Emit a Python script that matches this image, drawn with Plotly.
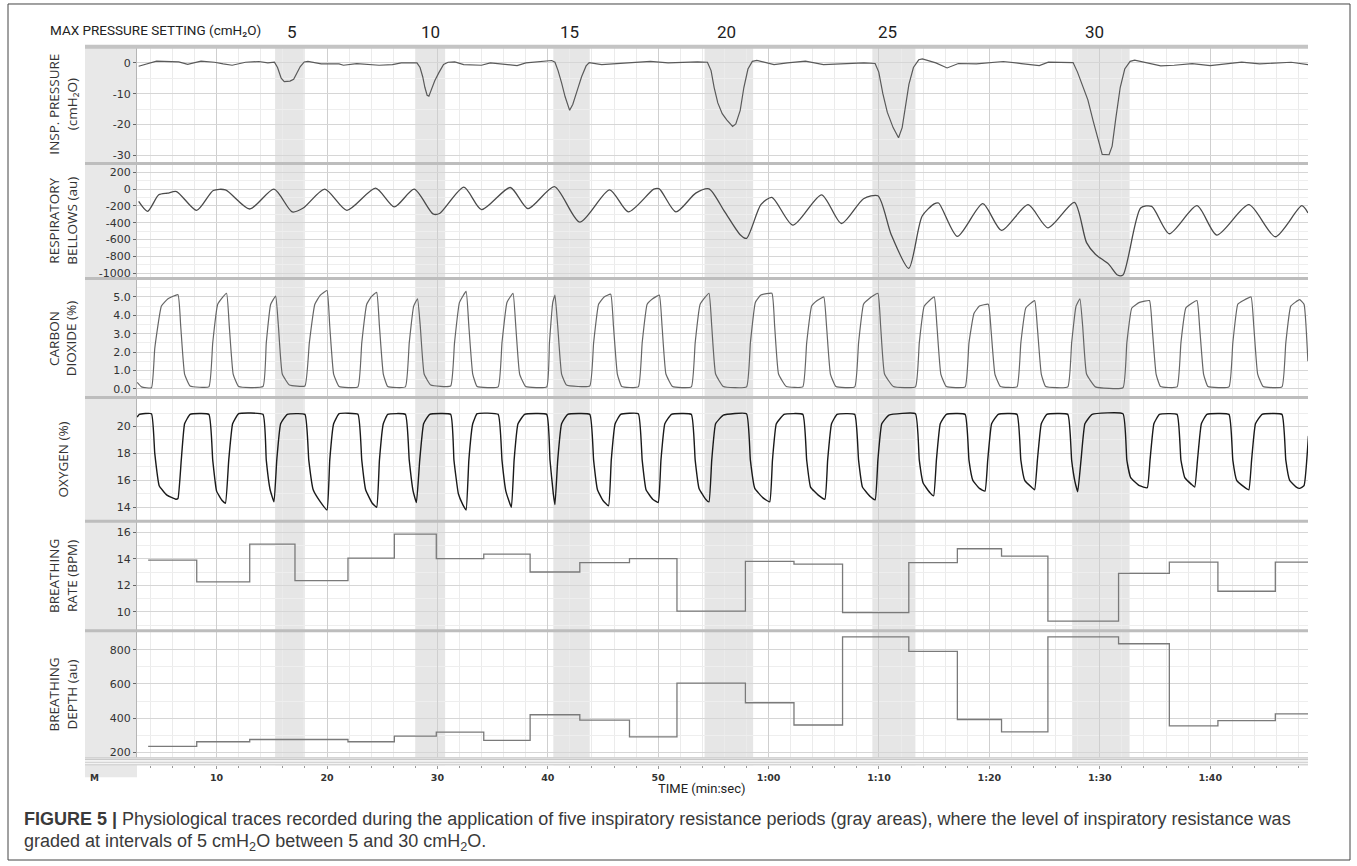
import plotly.graph_objects as go

W, H = 1357, 866
def fx(p): return p / W
def fy(p): return 1 - p / H

# ---------------- data ----------------
time_ticks = [10, 20, 30, 40, 50, 60, 70, 80, 90, 100]
time_labels = ["10", "20", "30", "40", "50", "1:00", "1:10", "1:20", "1:30", "1:40"]

pressure_settings = ["5", "10", "15", "20", "25", "30"]
setting_label_t = [16.8, 29.4, 42.0, 56.2, 70.8, 89.5]
resist_start = [15.3, 28.0, 40.5, 54.2, 69.4, 87.5]
resist_end = [17.9, 30.7, 43.8, 58.6, 73.3, 92.7]

insp_t = [2.94, 4.56, 6.57, 7.38, 8.59, 9.80, 10.6, 11.41, 12.62, 13.83, 14.64, 15.24, 15.52, 15.85,
          16.13, 16.65, 16.98, 17.26, 17.58, 17.94, 18.27, 19.48, 21.09, 21.49, 22.70, 24.72, 25.93,
          26.73, 28.15, 28.43, 28.67, 28.87, 29.07, 29.23, 29.48, 29.76, 30.16, 30.56, 30.97, 31.57,
          32.38, 33.99, 34.80, 36.41, 37.22, 38.02, 39.64, 40.36, 40.65, 40.93, 41.25, 41.57, 41.98,
          42.26, 42.66, 43.06, 43.47, 43.75, 44.88, 46.9, 49.3, 50.9, 52.5, 53.56, 54.46, 54.79, 55.07,
          55.40, 55.80, 56.21, 56.74, 57.03, 57.43, 57.76, 58.13, 58.53, 58.94, 60.49, 61.71, 63.34,
          64.97, 66.60, 68.64, 69.65, 69.98, 70.35, 70.75, 71.28, 71.77, 72.10, 72.38, 72.71, 73.12,
          73.60, 73.93, 75.15, 76.17, 77.19, 78.82, 81.26, 82.89, 84.52, 85.34, 87.58, 87.98, 88.39,
          88.92, 89.41, 89.90, 90.22, 90.84, 91.12, 91.45, 91.85, 92.26, 92.75, 93.16, 94.30, 95.52,
          96.74, 98.37, 100.0, 101.63, 102.85, 104.48, 106.52, 107.33, 108.86]
insp_v = [-1.1, 0.55, 0.3, -0.5, 0.55, 0.2, -0.33, -0.77, 0.2, 0.44, 0.0, 0.2, -1.5, -5.0,
          -6.1, -5.9, -5.3, -3.5, -1.2, 0.3, 0.5, -0.33, -0.33, -0.77, -0.22, -0.77, -0.55,
          0.0, 0.0, -1.5, -4.5, -8.0, -10.5, -10.8, -8.5, -5.8, -3.0, -0.5, 0.2, 0.33,
          -0.55, -0.77, 0.0, -0.55, -0.88, 0.0, 0.55, 0.77, 0.2, -2.5, -6.5, -11.0, -15.4,
          -13.5, -9.0, -4.5, -1.0, 0.1, -0.55, 0.0, 0.5, 0.0, 0.33, 0.33, 0.2, -2.5, -8.0,
          -13.0, -16.5, -18.5, -20.6, -19.8, -15.4, -8.0, -2.0, 0.5, 0.8, -0.55, 0.0, 0.55,
          -0.55, -0.33, 0.0, -0.2, -3.0, -10.0, -16.0, -21.0, -24.3, -21.0, -15.0, -7.0, -1.5,
          1.0, 1.3, 0.0, -1.65, -0.2, -0.33, 0.44, -0.22, -0.88, 0.22, 0.1, -3.0, -7.0,
          -12.0, -19.0, -26.0, -29.7, -29.8, -27.0, -18.0, -8.0, -2.0, 0.5, 0.9, 0.1, -1.0,
          -0.77, -0.22, -0.88, -0.22, 0.22, -0.33, 0.0, 0.2, -0.55]

bellows_t = [2.94, 3.75, 4.76, 5.56, 6.37, 8.19, 9.7, 10.8, 13.0, 15.2, 16.85, 17.85, 19.8, 21.8, 24.4,
             26.1, 27.9, 29.6, 30.2, 32.4, 34.0, 36.6, 38.2, 40.6, 42.9, 45.6, 47.3, 49.6, 50.1, 51.6,
             53.4, 54.6, 56.0, 57.4, 58.0, 59.3, 60.3, 62.2, 64.8, 66.6, 68.6, 69.9, 71.1, 72.7, 73.9,
             75.0, 75.4, 77.1, 79.4, 81.1, 83.5, 85.3, 87.7, 88.8, 89.6, 90.8, 91.6, 92.1, 93.7, 94.7,
             96.3, 98.8, 100.6, 103.5, 105.9, 108.3, 108.86]
bellows_v = [-146, -264, -67, -47, -28, -252, -16, -8, -236, 0, -271, -225, 0, -252, 12,
             -212, 0, -295, -290, 24, -244, 20, -232, 31, -393, -8, -271, 0, 4, -271,
             -47, 4, -264, -539, -586, -185, -98, -429, -67, -409, -114, -79, -539, -944, -323,
             -175, -165, -563, -173, -492, -185, -460, -157, -637, -775, -893, -1023, -1023, -224, -205,
             -531, -197, -547, -185, -567, -197, -283]

co2_pts = [(2.8, 0.35), (3.2, 0.1), (4.1, 0.05),
           (4.4, 2.2), (5.0, 4.5), (5.6, 4.9), (6.5, 5.12), (6.75, 3.4), (7.1, 0.8), (7.6, 0.15), (9.3, 0.1),
           (9.65, 2.5), (10.1, 4.6), (10.9, 5.2), (11.15, 3.4), (11.5, 0.8), (12.0, 0.12), (14.2, 0.12),
           (14.5, 2.5), (14.9, 4.6), (15.35, 5.05), (15.6, 3.4), (15.95, 0.8), (16.6, 0.2), (18.0, 0.15),
           (18.4, 2.5), (18.9, 4.6), (19.4, 5.1), (20.0, 5.35), (20.25, 3.4), (20.6, 0.8), (21.1, 0.12), (22.8, 0.1),
           (23.15, 2.5), (23.6, 4.6), (24.0, 5.0), (24.5, 5.25), (24.75, 3.4), (25.1, 0.8), (25.5, 0.12), (27.1, 0.1),
           (27.45, 2.5), (27.85, 4.5), (28.2, 4.9), (28.45, 3.4), (28.8, 0.8), (29.4, 0.2), (31.2, 0.15),
           (31.55, 2.5), (32.0, 4.7), (32.6, 5.3), (32.85, 3.4), (33.2, 0.8), (33.6, 0.12), (35.5, 0.1),
           (35.85, 2.5), (36.3, 4.7), (36.85, 5.2), (37.1, 3.4), (37.45, 0.8), (38.0, 0.12), (39.9, 0.1),
           (40.15, 2.5), (40.45, 4.7), (40.65, 5.1), (40.9, 3.4), (41.25, 0.8), (41.7, 0.2), (43.8, 0.15),
           (44.15, 2.5), (44.6, 4.6), (45.1, 5.0), (45.7, 5.15), (45.95, 3.4), (46.3, 0.8), (46.7, 0.12), (48.2, 0.1),
           (48.55, 2.5), (49.0, 4.6), (49.5, 4.9), (50.1, 5.1), (50.35, 3.4), (50.7, 0.8), (51.3, 0.12), (53.0, 0.1),
           (53.35, 2.5), (53.8, 4.6), (54.6, 5.2), (54.85, 3.4), (55.2, 0.8), (55.9, 0.12), (58.0, 0.1),
           (58.35, 2.5), (58.8, 4.7), (59.3, 5.1), (60.3, 5.2), (60.55, 3.4), (60.9, 0.8), (61.6, 0.12), (63.1, 0.1),
           (63.45, 2.5), (63.9, 4.5), (64.4, 4.8), (65.0, 5.0), (65.25, 3.4), (65.6, 0.8), (66.1, 0.12), (67.8, 0.1),
           (68.15, 2.5), (68.6, 4.6), (69.1, 4.9), (69.9, 5.2), (70.15, 3.4), (70.5, 0.8), (71.3, 0.12), (73.3, 0.1),
           (73.65, 2.5), (74.1, 4.5), (75.0, 5.0), (75.25, 3.4), (75.6, 0.8), (76.1, 0.12), (77.8, 0.1),
           (78.15, 2.5), (78.6, 4.1), (79.1, 4.5), (79.9, 4.6), (80.15, 3.2), (80.5, 0.8), (81.0, 0.12), (82.5, 0.1),
           (82.85, 2.5), (83.3, 4.4), (84.1, 4.8), (84.35, 3.3), (84.7, 0.8), (85.1, 0.12), (87.1, 0.1),
           (87.45, 2.5), (87.85, 4.5), (88.2, 4.9), (88.45, 3.4), (88.8, 0.8), (89.6, 0.1), (92.1, 0.05),
           (92.45, 2.5), (92.9, 4.4), (93.6, 4.7), (94.5, 4.8), (94.75, 3.3), (95.1, 0.8), (95.5, 0.12), (97.0, 0.1),
           (97.35, 2.5), (97.8, 4.4), (98.8, 4.8), (99.05, 3.3), (99.4, 0.8), (99.8, 0.12), (101.7, 0.1),
           (102.05, 2.5), (102.5, 4.6), (103.0, 4.8), (103.7, 5.0), (103.95, 3.4), (104.3, 0.8), (104.8, 0.12), (106.5, 0.1),
           (106.85, 2.5), (107.3, 4.5), (108.1, 4.85), (108.5, 4.6), (108.85, 1.5)]

o2_pts = [(2.8, 20.7), (3.0, 20.9), (4.1, 20.95),
          (4.4, 18.0), (4.8, 15.6), (5.5, 14.9), (6.3, 14.6), (6.5, 14.65), (6.8, 17.5), (7.1, 20.2), (7.6, 20.9), (9.3, 20.9),
          (9.65, 17.5), (10.0, 15.2), (10.5, 14.5), (10.8, 14.3), (11.1, 17.5), (11.45, 20.2), (12.0, 20.95), (14.2, 20.9),
          (14.5, 17.5), (14.85, 15.3), (15.2, 14.4), (15.45, 17.5), (15.8, 20.2), (16.4, 20.9), (18.0, 20.9),
          (18.35, 17.5), (18.75, 15.3), (19.4, 14.4), (20.0, 13.8), (20.25, 17.5), (20.6, 20.2), (21.1, 20.95), (22.8, 20.9),
          (23.15, 17.5), (23.5, 15.3), (24.1, 14.3), (24.5, 14.0), (24.75, 17.5), (25.1, 20.2), (25.5, 20.9), (27.1, 20.9),
          (27.45, 17.5), (27.8, 15.2), (28.1, 14.35), (28.4, 17.5), (28.75, 20.2), (29.3, 20.9), (31.2, 20.9),
          (31.5, 17.5), (31.9, 15.0), (32.3, 14.2), (32.6, 13.8), (32.85, 17.5), (33.2, 20.2), (33.6, 20.95), (35.5, 20.9),
          (35.85, 17.5), (36.2, 15.2), (36.7, 14.0), (36.95, 17.5), (37.3, 20.2), (37.9, 20.9), (39.9, 20.9),
          (40.2, 17.5), (40.5, 15.0), (40.65, 14.2), (40.9, 17.5), (41.25, 20.2), (41.8, 20.9), (43.8, 20.9),
          (44.15, 17.5), (44.5, 15.3), (45.0, 14.5), (45.5, 14.1), (45.75, 17.5), (46.1, 20.2), (46.6, 20.9), (48.2, 20.95),
          (48.55, 17.5), (48.9, 15.3), (49.5, 14.6), (50.0, 14.35), (50.25, 17.5), (50.6, 20.2), (51.2, 20.9), (53.0, 20.9),
          (53.35, 17.5), (53.7, 15.4), (54.3, 14.6), (54.6, 14.4), (54.85, 17.5), (55.2, 20.2), (55.9, 20.85), (58.0, 20.95),
          (58.35, 17.5), (58.75, 15.4), (59.5, 14.7), (60.1, 14.4), (60.35, 17.5), (60.7, 20.2), (61.4, 20.9), (63.1, 20.9),
          (63.45, 17.5), (63.8, 15.5), (64.5, 14.9), (65.1, 14.6), (65.35, 17.5), (65.7, 20.2), (66.2, 20.9), (67.8, 20.9),
          (68.15, 17.5), (68.5, 15.5), (69.2, 14.8), (69.65, 14.55), (69.9, 17.5), (70.25, 20.2), (70.9, 20.85), (73.3, 20.95),
          (73.65, 17.5), (74.0, 15.8), (74.6, 15.1), (74.95, 14.85), (75.2, 17.5), (75.55, 20.2), (76.1, 20.9), (77.8, 20.9),
          (78.15, 17.5), (78.5, 16.0), (79.1, 15.4), (79.6, 15.2), (79.85, 17.5), (80.2, 20.2), (80.8, 20.9), (82.5, 20.9),
          (82.85, 17.5), (83.2, 16.0), (83.8, 15.5), (84.1, 15.3), (84.35, 17.5), (84.7, 20.2), (85.2, 20.9), (87.1, 20.9),
          (87.45, 17.5), (87.75, 15.9), (88.0, 15.15), (88.3, 17.5), (88.65, 20.2), (89.3, 20.9), (92.1, 20.95),
          (92.45, 17.5), (92.8, 16.2), (93.6, 15.6), (94.3, 15.45), (94.55, 17.5), (94.9, 20.2), (95.4, 20.9), (97.0, 20.9),
          (97.35, 17.5), (97.7, 16.2), (98.3, 15.7), (98.6, 15.5), (98.85, 17.5), (99.2, 20.2), (99.7, 20.9), (101.7, 20.9),
          (102.05, 17.5), (102.4, 16.0), (103.1, 15.5), (103.5, 15.3), (103.75, 17.5), (104.1, 20.2), (104.7, 20.9), (106.5, 20.9),
          (106.85, 17.5), (107.2, 16.0), (107.8, 15.5), (108.1, 15.4), (108.5, 15.6), (108.9, 19.3)]

step_edges = [3.8, 8.2, 13.0, 17.1, 21.9, 26.1, 29.9, 34.2, 38.4, 42.9, 47.4, 51.7, 57.9, 62.3,
              66.7, 72.7, 77.1, 81.1, 85.3, 91.7, 96.3, 100.7, 105.9, 108.86]
rate_bpm = [13.9, 12.25, 15.1, 12.35, 14.05, 15.85, 14.0, 14.35, 13.0, 13.7, 14.0, 10.05,
            13.8, 13.6, 9.95, 13.7, 14.75, 14.2, 9.3, 12.9, 13.75, 11.55, 13.75]
depth_au = [235, 262, 275, 275, 262, 295, 318, 270, 420, 388, 290, 605,
            490, 360, 875, 790, 392, 320, 875, 835, 355, 385, 425]

# ---------------- layout geometry ----------------
X0, X1 = 137, 1308
T0, T1 = 2.79, 108.86
panels = [(47, 163), (165, 278), (281, 398), (400, 522), (524, 632), (634, 768)]
yranges = [(-32.3, 5.2), (-1047, 295), (-0.43, 5.92), (13.04, 22.07), (8.65, 16.75), (124, 905)]
ytickvals = [[0, -10, -20, -30], [200, 0, -200, -400, -600, -800, -1000],
             [0, 1, 2, 3, 4, 5], [14, 16, 18, 20], [10, 12, 14, 16], [200, 400, 600, 800]]
yticktext = [["0", "-10", "-20", "-30"], ["200", "0", "-200", "-400", "-600", "-800", "-1000"],
             ["0.0", "1.0", "2.0", "3.0", "4.0", "5.0"], ["14", "16", "18", "20"],
             ["10", "12", "14", "16"], ["200", "400", "600", "800"]]
yminor = [(0, 5), (0, 100), (0, 0.5), (0, 1), (0, 1), (0, 100)]
ytitles = ["INSP. PRESSURE<br>(cmH₂O)", "RESPIRATORY<br>BELLOWS (au)", "CARBON<br>DIOXIDE (%)",
           "OXYGEN (%)", "BREATHING<br>RATE (BPM)", "BREATHING<br>DEPTH (au)"]

fig = go.Figure()

co2_t = [p[0] for p in co2_pts]
co2_v = [p[1] for p in co2_pts]
o2_t = [p[0] for p in o2_pts]
o2_v = [p[1] for p in o2_pts]

fig.add_trace(go.Scatter(x=insp_t, y=insp_v, mode="lines", line=dict(color="#5a5a5a", width=1.2),
                         xaxis="x", yaxis="y"))
fig.add_trace(go.Scatter(x=bellows_t, y=bellows_v, mode="lines",
                         line=dict(color="#4a4a4a", width=1.3, shape="spline", smoothing=0.7),
                         xaxis="x2", yaxis="y2"))
fig.add_trace(go.Scatter(x=co2_t, y=co2_v, mode="lines",
                         line=dict(color="#666666", width=1.2, shape="spline", smoothing=0.35),
                         xaxis="x3", yaxis="y3"))
fig.add_trace(go.Scatter(x=o2_t, y=o2_v, mode="lines",
                         line=dict(color="#1a1a1a", width=1.4, shape="spline", smoothing=0.35),
                         xaxis="x4", yaxis="y4"))
fig.add_trace(go.Scatter(x=step_edges, y=rate_bpm + [rate_bpm[-1]], mode="lines",
                         line=dict(color="#7a7a7a", width=1.3, shape="hv"), xaxis="x5", yaxis="y5"))
fig.add_trace(go.Scatter(x=step_edges, y=depth_au + [depth_au[-1]], mode="lines",
                         line=dict(color="#7a7a7a", width=1.3, shape="hv"), xaxis="x6", yaxis="y6"))

lay = {}
tickfont = dict(family="DejaVu Sans", size=11, color="#333333")
for i in range(6):
    s = "" if i == 0 else str(i + 1)
    top, bot = panels[i]
    xa = dict(domain=[fx(X0), fx(X1)], range=[T0, T1], anchor="y" + s,
              tickmode="array", tickvals=time_ticks, ticktext=time_labels,
              showgrid=True, gridcolor="#cfcfcf", gridwidth=1, zeroline=False, showline=False,
              minor=dict(tickmode="linear", tick0=0, dtick=2, showgrid=True, gridcolor="#ebebeb"),
              showticklabels=(i == 5))
    if i > 0:
        xa["matches"] = "x"
    if i == 5:
        xa.update(ticks="outside", ticklen=3, tickcolor="#999999",
                  tickfont=dict(family="DejaVu Sans", size=9.5, color="#333333", weight="bold"))
        xa["minor"].update(ticks="outside", ticklen=2, tickcolor="#999999")
    else:
        xa["ticks"] = ""
    ya = dict(domain=[fy(bot), fy(top)], range=list(yranges[i]), anchor="x" + s,
              tickmode="array", tickvals=ytickvals[i], ticktext=yticktext[i],
              ticks="outside", ticklen=3, tickcolor="#666666", tickfont=tickfont,
              showgrid=True, gridcolor="#d6d6d6", zeroline=False,
              showline=True, linecolor="#b5b5b5", linewidth=1,
              minor=dict(tickmode="linear", tick0=yminor[i][0], dtick=yminor[i][1],
                         showgrid=True, gridcolor="#eeeeee"))
    lay["xaxis" + s] = xa
    lay["yaxis" + s] = ya

shapes = []
shapes.append(dict(type="rect", xref="paper", yref="paper", x0=fx(85), x1=fx(X0), y0=fy(780), y1=fy(47),
                   fillcolor="#e8e8e8", line=dict(width=0), layer="below"))
for a, b in zip(resist_start, resist_end):
    shapes.append(dict(type="rect", xref="x", yref="paper", x0=a, x1=b, y0=fy(768), y1=fy(47),
                       fillcolor="#e6e6e6", line=dict(width=0), layer="below"))
shapes.append(dict(type="rect", xref="paper", yref="paper", x0=fx(85), x1=fx(X1), y0=fy(49), y1=fy(45),
                   fillcolor="#c4c4c4", line=dict(width=0), layer="above"))
for yy in [164, 279.5, 399, 523, 633]:
    shapes.append(dict(type="rect", xref="paper", yref="paper", x0=fx(85), x1=fx(X1),
                       y0=fy(yy + 1.5), y1=fy(yy - 1.5), fillcolor="#bdbdbd", line=dict(width=0),
                       layer="above"))
shapes.append(dict(type="rect", xref="paper", yref="paper", x0=fx(85), x1=fx(X1), y0=fy(768), y1=fy(760),
                   fillcolor="#f3f3f3", line=dict(width=0), layer="above"))
for yy, c in [(760.5, "#c2c2c2"), (762, "#c2c2c2"), (765, "#d0d0d0"), (767.5, "#c8c8c8")]:
    shapes.append(dict(type="line", xref="paper", yref="paper", x0=fx(85), x1=fx(X1), y0=fy(yy), y1=fy(yy),
                       line=dict(color=c, width=1), layer="above"))
shapes.append(dict(type="rect", xref="paper", yref="paper", x0=fx(8), x1=fx(1350), y0=fy(863), y1=fy(4),
                   fillcolor="rgba(0,0,0,0)", line=dict(color="#444444", width=1), layer="above"))

ann = []
ann.append(dict(text="MAX PRESSURE SETTING (cmH₂O)", xref="paper", yref="paper", x=fx(48), y=fy(30),
                xanchor="left", yanchor="middle", showarrow=False,
                font=dict(family="Roboto", size=13.5, color="#222222")))
for lab, t in zip(pressure_settings, setting_label_t):
    ann.append(dict(text=lab, xref="x", yref="paper", x=t, y=fy(32), xanchor="center", yanchor="middle",
                    showarrow=False, font=dict(family="Roboto", size=17, color="#222222")))
for i, ttl in enumerate(ytitles):
    top, bot = panels[i]
    if i == 5:
        bot = 760
    ann.append(dict(text=ttl, xref="paper", yref="paper", x=fx(63), y=fy((top + bot) / 2),
                    xanchor="center", yanchor="middle", textangle=-90, showarrow=False,
                    font=dict(family="Open Sans", size=13.5, color="#333333")))
ann.append(dict(text="TIME (min:sec)", xref="paper", yref="paper", x=fx(702), y=fy(791),
                xanchor="center", yanchor="middle", showarrow=False,
                font=dict(family="Roboto", size=13, color="#222222")))
ann.append(dict(text="<b>M</b>", xref="paper", yref="paper", x=fx(94), y=fy(781),
                xanchor="center", yanchor="middle", showarrow=False,
                font=dict(family="DejaVu Sans", size=9, color="#333333")))
ann.append(dict(text="<b>FIGURE 5 |</b> Physiological traces recorded during the application of five "
                     "inspiratory resistance periods (gray areas), where the level of inspiratory resistance was",
                xref="paper", yref="paper", x=fx(22), y=fy(822), xanchor="left", yanchor="middle",
                showarrow=False, font=dict(family="Liberation Sans", size=18, color="#3a3a3a")))
ann.append(dict(text="graded at intervals of 5 cmH<sub>2</sub>O between 5 and 30 cmH<sub>2</sub>O.",
                xref="paper", yref="paper", x=fx(22), y=fy(845), xanchor="left", yanchor="middle",
                showarrow=False, font=dict(family="Liberation Sans", size=18, color="#3a3a3a")))

fig.update_layout(width=W, height=H, margin=dict(l=0, r=0, t=0, b=0),
                  paper_bgcolor="white", plot_bgcolor="rgba(0,0,0,0)",
                  showlegend=False, hovermode=False, shapes=shapes, annotations=ann, **lay)

fig.write_html("out.html")
